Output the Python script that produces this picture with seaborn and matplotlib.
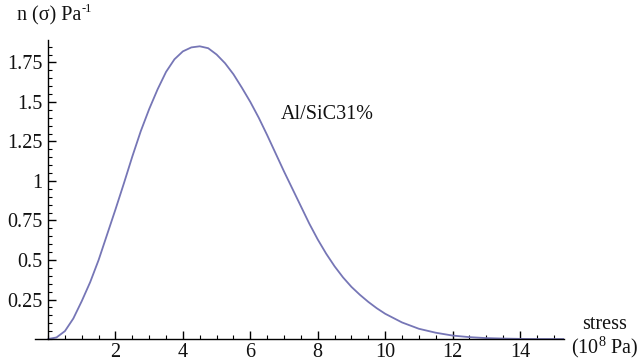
import numpy as np
import pandas as pd
import seaborn as sns
import matplotlib
matplotlib.use("Agg")
import matplotlib.pyplot as plt
from matplotlib.ticker import MultipleLocator, FixedLocator, FixedFormatter

# stress (10^8 Pa) and distribution density n(sigma)
stress = [0.0, 0.25, 0.5, 0.75, 1.0, 1.25, 1.5, 1.75, 2.0, 2.25, 2.5, 2.75,
          3.0, 3.25, 3.5, 3.75, 4.0, 4.25, 4.5, 4.75, 5.0, 5.25, 5.5, 5.75,
          6.0, 6.25, 6.5, 6.75, 7.0, 7.25, 7.5, 7.75, 8.0, 8.25, 8.5, 8.75,
          9.0, 9.25, 9.5, 9.75, 10.0, 10.5, 11.0, 11.5, 12.0, 12.5, 13.0,
          13.5, 14.0, 14.5, 15.0, 15.3]
density = [0.0, 0.01, 0.05, 0.13, 0.24, 0.36, 0.50, 0.66, 0.82, 0.985,
           1.155, 1.315, 1.455, 1.58, 1.69, 1.77, 1.82, 1.845, 1.852, 1.84,
           1.80, 1.745, 1.675, 1.59, 1.50, 1.40, 1.29, 1.175, 1.06, 0.95,
           0.84, 0.73, 0.63, 0.54, 0.46, 0.39, 0.33, 0.28, 0.235, 0.195,
           0.16, 0.105, 0.065, 0.04, 0.022, 0.012, 0.006, 0.003, 0.001, 0.0,
           0.0, 0.0]

x_ticks = [2, 4, 6, 8, 10, 12, 14]
x_labels = ["2", "4", "6", "8", "10", "12", "14"]
y_ticks = [0.25, 0.5, 0.75, 1.0, 1.25, 1.5, 1.75]
y_labels = ["0.25", "0.5", "0.75", "1", "1.25", "1.5", "1.75"]

series_label = "Al/SiC31%"
y_title = "n (σ) Pa"
y_title_sup = "-1"
x_title = "stress\n(10$^{8}$ Pa)"

df = pd.DataFrame({"stress": stress, "density": density})

sns.set_style("white")
plt.rcParams["font.family"] = ["Liberation Serif", "DejaVu Serif"]
plt.rcParams["mathtext.fontset"] = "custom"
plt.rcParams["mathtext.rm"] = "Liberation Serif"
plt.rcParams["mathtext.it"] = "Liberation Serif"

FS = 14.5
TXT = "#111111"

fig = plt.figure(figsize=(6.4, 3.63), dpi=100)
ax = fig.add_axes([0.054, 0.066, 0.827, 0.823])

sns.lineplot(data=df, x="stress", y="density", ax=ax, color="#7676b6",
             linewidth=1.3)

ax.set_xlim(-0.4, 15.3)
ax.set_ylim(0, 1.89)

for side in ("top", "right"):
    ax.spines[side].set_visible(False)
ax.spines["left"].set_position(("data", 0))
ax.spines["bottom"].set_position(("data", 0))
for side in ("left", "bottom"):
    ax.spines[side].set_color("black")
    ax.spines[side].set_linewidth(1.0)

ax.xaxis.set_major_locator(FixedLocator(x_ticks))
ax.xaxis.set_major_formatter(FixedFormatter(x_labels))
ax.xaxis.set_minor_locator(MultipleLocator(0.5))
ax.yaxis.set_major_locator(FixedLocator(y_ticks))
ax.yaxis.set_major_formatter(FixedFormatter(y_labels))
ax.yaxis.set_minor_locator(MultipleLocator(0.05))

ax.tick_params(axis="both", which="both", bottom=True, left=True,
               top=False, right=False)
ax.tick_params(axis="both", which="major", direction="in", length=6,
               width=1.0, color="black", labelsize=FS, labelcolor=TXT)
ax.tick_params(axis="both", which="minor", direction="in", length=3,
               width=0.8, color="black")
ax.tick_params(axis="x", which="major", pad=3)
ax.tick_params(axis="y", which="major", pad=4)

ax.set_xlabel("")
ax.set_ylabel("")
ax.grid(False)

t = fig.text(0.026, 0.955, y_title, fontsize=FS, ha="left", va="center",
             color=TXT)
fig.canvas.draw()
bb = t.get_window_extent()
fig.text((bb.x1 + 1) / fig.bbox.width, 0.975, y_title_sup, fontsize=FS * 0.62,
         ha="left", va="center", color=TXT)

fig.text(0.945, 0.07, x_title, fontsize=FS, ha="center", va="center",
         color=TXT, linespacing=1.0)
ax.text(6.9, 1.42, series_label, fontsize=FS, ha="left", va="center",
        color=TXT)

fig.savefig("out.png", dpi=100)
